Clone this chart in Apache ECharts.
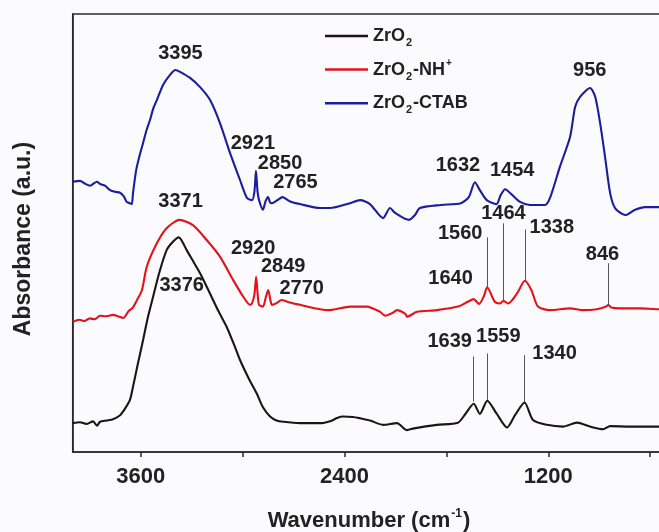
<!DOCTYPE html>
<html>
<head>
<meta charset="utf-8">
<script src="https://cdn.jsdelivr.net/npm/echarts@6/dist/echarts.min.js"></script>
<style>
  html, body { margin: 0; padding: 0; background: #fbfbfd; }
  #chart { width: 659px; height: 532px; }
</style>
</head>
<body>
<div id="chart"></div>
<script>
// FTIR spectra: wavenumber (cm-1) and absorbance (a.u., curves offset vertically)
const zro2Wn  = [4000,3957,3920,3880,3857,3839,3800,3763,3721,3692,3663,3645,3616,3586,3557,3527,3490,3447,3410,3376,3329,3290,3250,3192,3140,3094,3050,3015,2960,2917,2880,2838,2800,2760,2662,2530,2485,2440,2409,2350,2308,2250,2173,2091,2032,1990,1856,1732,1686,1639,1603,1559,1505,1443,1396,1340,1290,1208,1114,1031,954,877,836,719,548,400];
const zro2Abs = [0.66,0.68,0.64,0.70,0.60,0.69,0.72,0.75,0.84,0.99,1.19,1.49,2.02,2.55,3.08,3.54,4.10,4.61,4.80,4.90,4.61,4.35,4.08,3.62,3.20,2.86,2.45,2.10,1.65,1.34,1.02,0.81,0.72,0.69,0.66,0.66,0.70,0.78,0.81,0.80,0.77,0.72,0.62,0.66,0.50,0.54,0.62,0.67,0.88,1.10,0.87,1.17,0.88,0.56,0.84,1.13,0.73,0.62,0.58,0.67,0.58,0.52,0.59,0.58,0.58,0.58];

const nhWn  = [4000,3960,3930,3900,3870,3839,3800,3763,3735,3702,3672,3645,3621,3592,3564,3504,3447,3371,3292,3211,3133,3056,2997,2956,2944,2930,2920,2910,2903,2880,2862,2849,2835,2827,2800,2770,2730,2662,2544,2485,2367,2269,2190,2161,2115,2091,2040,2032,1973,1856,1732,1674,1640,1608,1580,1560,1515,1486,1464,1437,1384,1338,1300,1261,1190,1072,995,914,860,846,830,778,660,548,400];
const nhAbs = [2.97,3.02,2.99,3.05,3.03,3.11,3.10,3.13,3.10,3.06,3.21,3.30,3.47,3.70,4.23,4.77,5.11,5.30,5.18,4.84,4.46,3.93,3.55,3.36,3.40,3.60,4.00,3.55,3.36,3.32,3.55,3.70,3.45,3.36,3.40,3.47,3.42,3.36,3.26,3.24,3.32,3.32,3.20,3.11,3.18,3.24,3.15,3.09,3.20,3.24,3.32,3.43,3.49,3.38,3.55,3.76,3.43,3.39,3.45,3.39,3.62,3.91,3.70,3.32,3.24,3.28,3.24,3.26,3.32,3.36,3.30,3.28,3.28,3.26,3.26];

const ctabWn  = [4000,3957,3930,3898,3880,3857,3839,3810,3780,3751,3721,3700,3682,3663,3652,3645,3626,3604,3586,3565,3545,3525,3504,3468,3427,3395,3368,3309,3250,3192,3133,3074,3015,2974,2944,2930,2921,2912,2903,2880,2865,2850,2838,2827,2795,2765,2720,2662,2544,2485,2367,2308,2250,2173,2132,2102,2020,1985,1956,1832,1715,1668,1632,1603,1562,1505,1480,1454,1413,1366,1308,1220,1190,1132,1072,1042,1013,954,924,895,866,836,807,748,689,630,548,400];
const ctabAbs = [6.17,6.19,6.13,6.08,6.12,6.17,6.12,6.08,5.98,5.94,5.92,5.84,5.71,5.68,5.66,5.91,6.44,6.80,7.05,7.35,7.58,7.85,8.04,8.38,8.61,8.72,8.68,8.54,8.33,8.04,7.51,6.83,6.21,5.80,5.75,5.95,6.42,5.95,5.75,5.53,5.72,5.82,5.70,5.68,5.75,5.82,5.72,5.66,5.57,5.57,5.68,5.75,5.66,5.34,5.57,5.46,5.30,5.41,5.57,5.64,5.68,5.82,6.16,5.98,5.75,5.66,5.87,6.00,5.87,5.71,5.64,5.64,5.80,6.51,7.19,7.88,8.11,8.31,8.11,7.51,6.74,5.91,5.57,5.41,5.53,5.59,5.59,5.60];

// assigned band positions (cm-1)
const zro2Bands = [3376, 1639, 1559, 1340];
const nhBands   = [3371, 2920, 2849, 2770, 1640, 1560, 1464, 1338, 846];
const ctabBands = [3395, 2921, 2850, 2765, 1632, 1454, 956];

const xTicks  = [600, 1200, 1800, 2400, 3000, 3600];
const xLabels = [1200, 2400, 3600];

// label placement: [height in a.u., horizontal shift in px]
const zro2LabelPos = [[3.81, 3], [2.52, -24], [2.63, 11], [2.25, 30]];
const nhLabelPos   = [[5.71, 1], [4.65, -3], [4.23, 15], [3.74, 20], [3.97, -23], [4.99, -27], [5.45, 0], [5.13, 27], [4.52, -6]];
const ctabLabelPos = [[9.10, 5], [7.05, -3], [6.59, 12], [6.15, 13], [6.55, -17], [6.42, 7], [8.72, 0]];

// leader lines: band -> [bottom, top] in a.u.
const zro2Leaders = {1639: [1.15, 2.18], 1559: [1.19, 2.25], 1340: [1.14, 2.21]};
const nhLeaders   = {1560: [3.77, 4.90], 1464: [3.43, 5.22], 1338: [3.93, 5.08], 846: [3.36, 4.31]};

const FONT = 'Liberation Sans';
const zip = (xs, ys) => xs.map((x, i) => [x, ys[i]]);

function bandLabels(bands, pos) {
  return bands.map((b, i) => ({
    coord: [b, pos[i][0]],
    value: b,
    label: { offset: [pos[i][1], 0] }
  }));
}
function leaderLines(leaders) {
  return Object.keys(leaders).map(k => {
    const b = Number(k);
    return [{ coord: [b, leaders[k][0]] }, { coord: [b, leaders[k][1]] }];
  });
}

function spectrum(name, color, wn, abs, bands, pos, leaders) {
  return {
    name, type: 'line', data: zip(wn, abs),
    symbol: 'none', showSymbol: false, smooth: 0.25,
    lineStyle: { color, width: 2.1 }, itemStyle: { color },
    animation: false, z: 3,
    markPoint: {
      symbol: 'circle', symbolSize: 1, silent: true, animation: false,
      itemStyle: { color: 'rgba(0,0,0,0)' },
      label: {
        show: true, position: 'inside', formatter: p => String(p.value),
        color: '#222', fontFamily: FONT, fontWeight: 'bold', fontSize: 20
      },
      data: bandLabels(bands, pos)
    },
    markLine: {
      silent: true, animation: false, symbol: ['none', 'none'],
      label: { show: false },
      lineStyle: { color: '#555', width: 1, type: 'solid' },
      emphasis: { disabled: true },
      data: leaders ? leaderLines(leaders) : []
    }
  };
}

// subscript / superscript pieces are shifted with top / bottom padding
const legendRich = {
  t:   { fontFamily: FONT, fontWeight: 'bold', fontSize: 18, color: '#222', lineHeight: 22, verticalAlign: 'middle' },
  sub: { fontFamily: FONT, fontWeight: 'bold', fontSize: 11, color: '#222', lineHeight: 8, verticalAlign: 'middle', padding: [14, 1, 0, 1] },
  sup: { fontFamily: FONT, fontWeight: 'bold', fontSize: 10, color: '#222', lineHeight: 8, verticalAlign: 'middle', padding: [0, 0, 12, 1] }
};
const legendText = {
  'ZrO2': '{t|ZrO}{sub|2}',
  'ZrO2-NH+': '{t|ZrO}{sub|2}{t|-NH}{sup|+}',
  'ZrO2-CTAB': '{t|ZrO}{sub|2}{t|-CTAB}'
};

const chart = echarts.init(document.getElementById('chart'), null, { renderer: 'canvas' });
chart.setOption({
  backgroundColor: '#fbfbfd',
  animation: false,
  grid: {
    left: 72.7, top: 14, width: 611.5, height: 438,
    outerBoundsMode: 'none', containLabel: false,
    show: true, borderColor: '#2b2b2b', borderWidth: 1.5, backgroundColor: 'transparent'
  },
  legend: {
    orient: 'vertical', left: 325, top: 23.5, itemGap: 8.6, padding: 0,
    icon: 'rect', itemWidth: 43, itemHeight: 2.5,
    formatter: n => legendText[n],
    textStyle: { rich: legendRich },
    data: ['ZrO2', 'ZrO2-NH+', 'ZrO2-CTAB']
  },
  xAxis: {
    type: 'value', inverse: true, min: 400, max: 4000,
    splitLine: { show: false },
    axisLine: { lineStyle: { color: '#2b2b2b', width: 1.5 } },
    axisTick: { show: true, customValues: xTicks, length: 5, lineStyle: { color: '#2b2b2b', width: 1.5 } },
    axisLabel: {
      customValues: xLabels, margin: 14, formatter: v => String(v),
      color: '#222', fontFamily: FONT, fontWeight: 'bold', fontSize: 22
    },
    name: '{t|Wavenumber (cm}{sup|-1}{t|)}',
    nameLocation: 'middle', nameGap: 56,
    nameTextStyle: {
      padding: [0, 19, 0, 0],
      rich: {
        t:   { fontFamily: FONT, fontWeight: 'bold', fontSize: 22, color: '#222', lineHeight: 25 },
        sup: { fontFamily: FONT, fontWeight: 'bold', fontSize: 12, color: '#222', lineHeight: 25, verticalAlign: 'top', padding: [0, 1, 0, 1] }
      }
    }
  },
  yAxis: {
    type: 'value', min: 0, max: 10,
    splitLine: { show: false },
    axisTick: { show: false },
    axisLabel: { show: false },
    axisLine: { show: true, lineStyle: { color: '#2b2b2b', width: 1.5 } },
    name: 'Absorbance (a.u.)',
    nameLocation: 'middle', nameRotate: 90, nameGap: 38,
    nameTextStyle: {
      color: '#222', fontFamily: FONT, fontWeight: 'bold', fontSize: 23,
      padding: [0, 12, 0, 0]
    }
  },
  series: [
    spectrum('ZrO2', '#1d1512', zro2Wn, zro2Abs, zro2Bands, zro2LabelPos, zro2Leaders),
    spectrum('ZrO2-NH+', '#e3121b', nhWn, nhAbs, nhBands, nhLabelPos, nhLeaders),
    spectrum('ZrO2-CTAB', '#1d1d9b', ctabWn, ctabAbs, ctabBands, ctabLabelPos, null)
  ]
});
</script>
</body>
</html>
